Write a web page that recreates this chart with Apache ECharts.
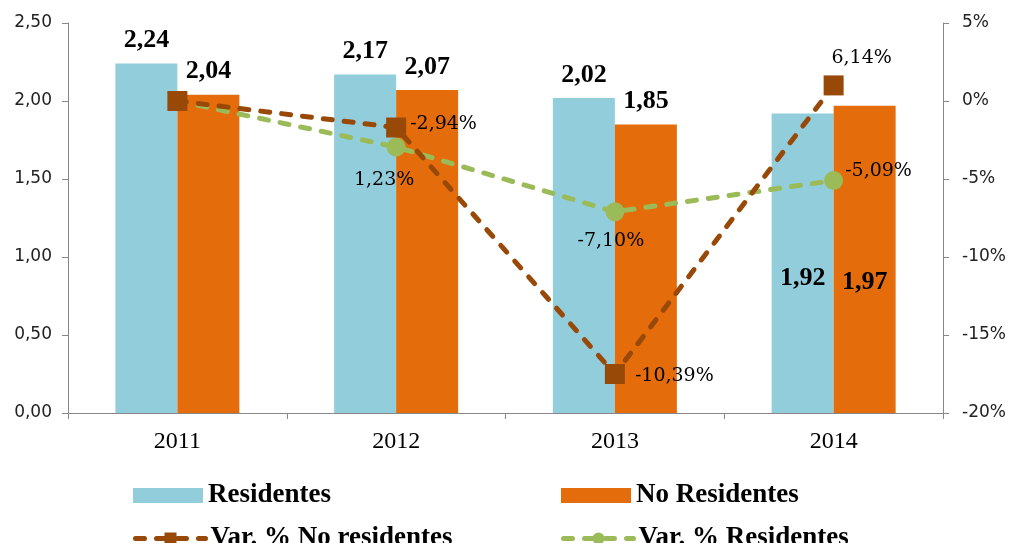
<!DOCTYPE html>
<html>
<head>
<meta charset="utf-8">
<script src="https://cdn.jsdelivr.net/npm/echarts@6/dist/echarts.min.js"></script>
<style>
  html, body { margin: 0; padding: 0; background: #fff; }
  #chart { width: 1010px; height: 543px; }
</style>
</head>
<body>
<div id="chart"></div>
<script>
// datos
var anios = ['2011', '2012', '2013', '2014'];
var residentes = [2.24, 2.17, 2.02, 1.92];
var noResidentes = [2.04, 2.07, 1.85, 1.97];
// posicion de los puntos (eje derecho, %)
var varNoRes = [0, -1.7, -17.5, 1.0];
var varRes = [0, -2.95, -7.1, -5.1];
// etiquetas tal cual aparecen
var etiqVarNoRes = ['', '-2,94%', '-10,39%', '6,14%'];
var etiqVarRes = ['', '1,23%', '-7,10%', '-5,09%'];

var serif = '"Liberation Serif", "Times New Roman", serif';
var serifAncha = '"DejaVu Serif", serif';
var sans = '"DejaVu Sans", Arial, sans-serif';

var coma = function (v) { return String(v.toFixed(2)).replace('.', ','); };

var barLabel = { show: true, position: 'top', distance: 10, fontFamily: serif, fontWeight: 'bold', fontSize: 26, color: '#000', formatter: function (p) { return coma(p.value); } };

// la ultima barra lleva la etiqueta dentro
function barData(arr, dy) {
    return arr.map(function (v, i) {
        if (i === 3) return { value: v, label: { position: ['50%', dy], align: 'center', verticalAlign: 'middle' } };
        return v;
    });
}

var posNoRes = [
    {},
    { position: 'right', distance: 4, offset: [0, -3] },
    { position: 'right', distance: 10, offset: [0, 2] },
    { position: 'top', distance: 8, offset: [28, 0] }
];
var posRes = [
    {},
    { position: 'bottom', distance: 14, offset: [-12, 0] },
    { position: 'bottom', distance: 10, offset: [-4, 0] },
    { position: 'right', distance: 2, offset: [0, -9] }
];
function lineData(arr, pos) {
    return arr.map(function (v, i) { return { value: v, label: pos[i] }; });
}

var legendText = { fontFamily: serif, fontWeight: 'bold', fontSize: 27, color: '#000', padding: [0, 0, 0, 0] };
var legendBase = { itemWidth: 70, itemHeight: 15, itemGap: 0, padding: 0, textStyle: legendText };

var myChart = echarts.init(document.getElementById('chart'));
var option = {
    backgroundColor: '#fff',
    animation: false,
    grid: { left: 68, right: 67, top: 23, bottom: 130 },
    legend: [
        Object.assign({ data: ['Residentes'], left: 133, top: 482, icon: 'rect' }, legendBase),
        Object.assign({ data: ['No Residentes'], left: 561, top: 482, icon: 'rect' }, legendBase),
        Object.assign({ data: ['Var. % No residentes'], left: 133, top: 525, lineStyle: { width: 5 } }, legendBase),
        Object.assign({ data: ['Var. % Residentes'], left: 561, top: 525, lineStyle: { width: 5 } }, legendBase)
    ],
    xAxis: {
        type: 'category',
        data: anios,
        axisLine: { lineStyle: { color: '#888' } },
        axisTick: { show: true, length: 6, lineStyle: { color: '#888' } },
        axisLabel: { fontFamily: serif, fontSize: 24, color: '#000', margin: 17 }
    },
    yAxis: [
        {
            type: 'value', min: 0, max: 2.5, interval: 0.5,
            splitLine: { show: false },
            axisLine: { show: true, lineStyle: { color: '#888' } },
            axisTick: { show: true, length: 6, lineStyle: { color: '#888' } },
            axisLabel: { fontFamily: sans, fontSize: 17, color: '#222', margin: 16, formatter: coma }
        },
        {
            type: 'value', min: -20, max: 5, interval: 5,
            splitLine: { show: false },
            axisLine: { show: true, lineStyle: { color: '#888' } },
            axisTick: { show: true, length: 6, lineStyle: { color: '#888' } },
            axisLabel: { fontFamily: sans, fontSize: 17, color: '#222', margin: 19, formatter: '{value}%' }
        }
    ],
    series: [
        {
            name: 'Residentes', type: 'bar', barWidth: 62, barGap: '0%',
            itemStyle: { color: '#92CDDC' },
            label: barLabel,
            data: barData(residentes, 165)
        },
        {
            name: 'No Residentes', type: 'bar', barWidth: 62, barGap: '0%',
            itemStyle: { color: '#E46C0A' },
            label: barLabel,
            data: barData(noResidentes, 177)
        },
        {
            name: 'Var. % No residentes', type: 'line', yAxisIndex: 1,
            symbol: 'rect', symbolSize: 20, z: 4,
            itemStyle: { color: '#984807' },
            lineStyle: { color: '#984807', width: 5, type: [9, 12], cap: 'round' },
            label: { show: true, fontFamily: serifAncha, fontSize: 19, color: '#000', formatter: function (p) { return etiqVarNoRes[p.dataIndex]; } },
            data: lineData(varNoRes, posNoRes)
        },
        {
            name: 'Var. % Residentes', type: 'line', yAxisIndex: 1,
            symbol: 'circle', symbolSize: 19, z: 3,
            itemStyle: { color: '#9BBB59' },
            lineStyle: { color: '#9BBB59', width: 5, type: [9, 12], cap: 'round' },
            label: { show: true, fontFamily: serifAncha, fontSize: 19, color: '#000', formatter: function (p) { return etiqVarRes[p.dataIndex]; } },
            data: lineData(varRes, posRes)
        }
    ]
};
myChart.setOption(option);
</script>
</body>
</html>
